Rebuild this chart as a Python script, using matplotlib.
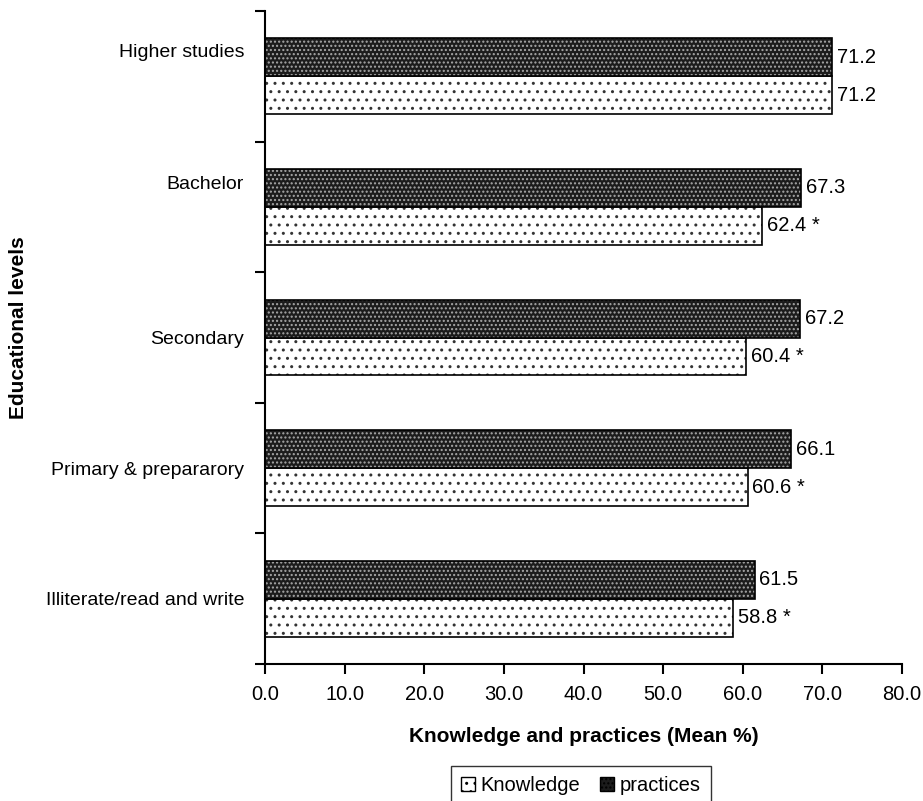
import matplotlib
matplotlib.use("Agg")
import matplotlib.pyplot as plt
from matplotlib.patches import Patch
import numpy as np

plt.rcParams['font.family'] = ['Liberation Sans', 'DejaVu Sans']
plt.rcParams['hatch.linewidth'] = 1.0

categories = ["Illiterate/read and write", "Primary & prepararory", "Secondary", "Bachelor", "Higher studies"]
knowledge = [58.8, 60.6, 60.4, 62.4, 71.2]
practices = [61.5, 66.1, 67.2, 67.3, 71.2]
knowledge_labels = ["58.8 *", "60.6 *", "60.4 *", "62.4 *", "71.2"]
practices_labels = ["61.5", "66.1", "67.2", "67.3", "71.2"]
xticks = [0, 10, 20, 30, 40, 50, 60, 70, 80]
label_offsets = [0.0, 0.0, 0.0, 0.19, 0.2]

FS = 14.5

fig = plt.figure(figsize=(9.23, 8.01), dpi=100)
ax = fig.add_axes([265/923, 1-664/801, (902-265)/923, (664-11)/801])

y = np.arange(len(categories))
h = 0.29
# knowledge (below center)
ax.barh(y - h/2, knowledge, height=h, color='white', edgecolor='#333333', hatch='..', linewidth=0)
ax.barh(y - h/2, knowledge, height=h, fill=False, edgecolor='black', linewidth=1.2)
# practices (above center)
ax.barh(y + h/2, practices, height=h, color='#1c1c1c', edgecolor='#a8a8a8', hatch='....', linewidth=0)
ax.barh(y + h/2, practices, height=h, fill=False, edgecolor='black', linewidth=1.2)

for yi, v, s in zip(y, knowledge, knowledge_labels):
    ax.text(v + 0.6, yi - h/2, s, va='center', ha='left', fontsize=FS)
for yi, v, s in zip(y, practices, practices_labels):
    ax.text(v + 0.6, yi + h/2, s, va='center', ha='left', fontsize=FS)

ax.set_xlim(0, 80)
ax.set_ylim(-0.5, len(categories) - 0.5)
ax.set_xticks(xticks)
ax.set_xticklabels([f"{t:.1f}" for t in xticks], fontsize=FS)
ax.set_yticks(y + np.array(label_offsets))
ax.set_yticklabels(categories, fontsize=14)
ax.tick_params(axis='y', which='major', length=0, pad=15)
ax.set_yticks(np.arange(-0.5, len(categories), 1.0), minor=True)
ax.tick_params(axis='y', which='minor', length=7, width=1.5)
ax.tick_params(axis='x', which='major', length=7, width=1.5, pad=8)

for sp in ['top', 'right']:
    ax.spines[sp].set_visible(False)
for sp in ['left', 'bottom']:
    ax.spines[sp].set_linewidth(1.5)

ax.set_xlabel("Knowledge and practices (Mean %)", fontsize=15, fontweight='bold', labelpad=17)
fig.text(19/923, 1-328/801, "Educational levels", rotation=90, fontsize=15, fontweight='bold',
         ha='center', va='center')

handles = [Patch(facecolor='white', edgecolor='black', hatch='..', linewidth=1),
           Patch(facecolor='#1c1c1c', edgecolor='black', hatch='....', linewidth=1)]
leg = fig.legend(handles, ["Knowledge", "practices"], loc='upper center',
                 bbox_to_anchor=(581/923, 1-756/801), ncol=2, fontsize=FS,
                 frameon=True, fancybox=False, handlelength=0.65, handleheight=0.65,
                 handletextpad=0.3, columnspacing=1.0, borderpad=0.5)
leg.get_frame().set_edgecolor('black')
leg.get_frame().set_linewidth(1.0)

fig.savefig("out.png", dpi=100)
